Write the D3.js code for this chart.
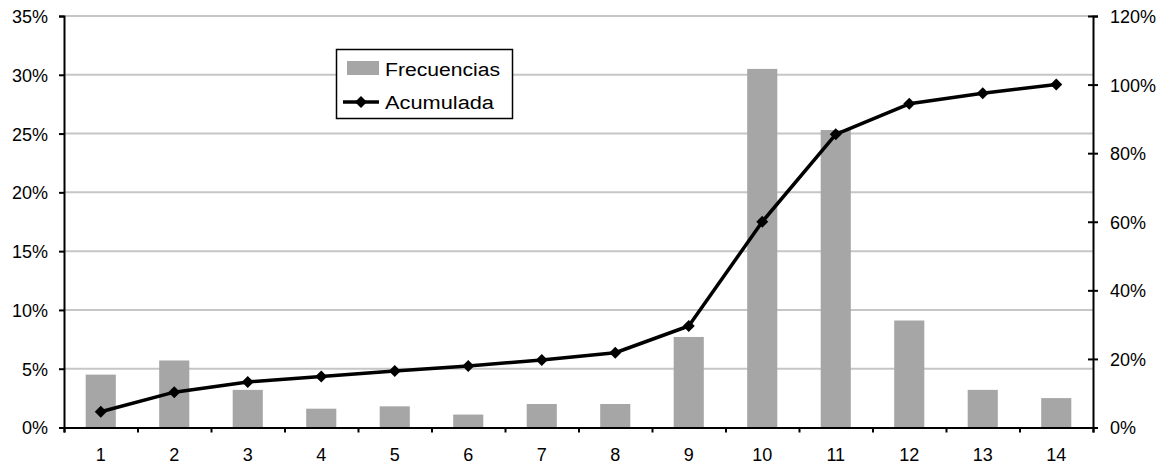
<!DOCTYPE html>
<html>
<head>
<meta charset="utf-8">
<script src="https://cdn.jsdelivr.net/npm/d3@7"></script>
<style>
  body { margin: 0; background: #fff; }
  svg text { font-family: "Liberation Sans", Arial, sans-serif; font-size: 18px; fill: #000; }
</style>
</head>
<body>
<svg id="chart" width="1168" height="473"></svg>
<script>
// data
const categories = ["1","2","3","4","5","6","7","8","9","10","11","12","13","14"]
const frecuencias = [0.045, 0.057, 0.032, 0.016, 0.018, 0.011, 0.020, 0.020, 0.077, 0.305, 0.253, 0.091, 0.032, 0.025]
const acumulada = [0.046, 0.103, 0.133, 0.149, 0.165, 0.179, 0.197, 0.218, 0.296, 0.600, 0.855, 0.944, 0.975, 1.000]
const leftTicks = [0, 0.05, 0.10, 0.15, 0.20, 0.25, 0.30, 0.35]
const rightTicks = [0, 0.2, 0.4, 0.6, 0.8, 1.0, 1.2]

const svg = d3.select("#chart")

const plotLeft = 64, plotRight = 1093, plotTop = 16, plotBottom = 427.5

const x = d3.scaleBand().domain(categories).range([plotLeft, plotRight])
const xEdge = d3.scaleLinear().domain([0, categories.length]).range([plotLeft, plotRight])
const yL = d3.scaleLinear().domain([0, 0.35]).range([plotBottom, plotTop])
const yR = d3.scaleLinear().domain([0, 1.2]).range([plotBottom, plotTop])

const barW = x.bandwidth() * 0.41
const cx = function(d) { return x(d) + x.bandwidth() / 2 }

// gridlines
svg.append("g")
  .selectAll("line")
  .data(leftTicks.slice(1))
  .enter().append("line")
    .attr("x1", plotLeft).attr("x2", plotRight)
    .attr("y1", function(d) { return yL(d) }).attr("y2", function(d) { return yL(d) })
    .attr("stroke", "#c6c6c6").attr("stroke-width", 2)

// bars
svg.append("g")
  .selectAll("rect")
  .data(frecuencias)
  .enter().append("rect")
    .attr("x", function(d, i) { return cx(categories[i]) - barW / 2 })
    .attr("width", barW)
    .attr("y", function(d) { return yL(d) })
    .attr("height", function(d) { return plotBottom - yL(d) })
    .attr("fill", "#a6a6a6")

// axes
const axL = svg.append("g")
    .attr("transform", "translate(" + plotLeft + ",0)")
    .call(d3.axisLeft(yL).tickValues(leftTicks).tickFormat(d3.format(".0%")).tickSize(5).tickPadding(11))
const axR = svg.append("g")
    .attr("transform", "translate(" + plotRight + ",0)")
    .call(d3.axisRight(yR).tickValues(rightTicks).tickFormat(d3.format(".0%")).tickSize(5).tickPadding(12))
axR.selectAll(".tick line").attr("x1", -5).attr("x2", 5)

svg.append("g")
    .attr("transform", "translate(0," + plotBottom + ")")
    .call(d3.axisBottom(xEdge).tickValues(d3.range(categories.length + 1)).tickFormat("").tickSize(5))
svg.append("g")
    .attr("transform", "translate(0," + plotBottom + ")")
    .call(d3.axisBottom(x).tickSize(0).tickPadding(21))
    .select(".domain").remove()

svg.selectAll(".domain, .tick line").attr("stroke", "#000").attr("stroke-width", 2)
svg.selectAll(".tick text").style("font-size", "18px").attr("fill", "#000")
axL.selectAll(".tick text").attr("dy", "0.36em")
axR.selectAll(".tick text").attr("dy", "0.36em")

// cumulative line
const line = d3.line()
    .x(function(d, i) { return cx(categories[i]) })
    .y(function(d) { return yR(d) })

svg.append("path")
    .datum(acumulada)
    .attr("d", line)
    .attr("fill", "none")
    .attr("stroke", "#000")
    .attr("stroke-width", 3.5)
    .attr("stroke-linejoin", "round")

const diamond = d3.symbol().type(d3.symbolSquare).size(72)

svg.append("g")
  .selectAll("path")
  .data(acumulada)
  .enter().append("path")
    .attr("d", diamond)
    .attr("transform", function(d, i) { return "translate(" + cx(categories[i]) + "," + yR(d) + ") rotate(45)" })
    .attr("fill", "#000")

// legend
const legend = svg.append("g")
legend.append("rect")
    .attr("x", 336.5).attr("y", 49.5).attr("width", 176).attr("height", 69)
    .attr("fill", "#fff").attr("stroke", "#000").attr("stroke-width", 1.5)
legend.append("rect")
    .attr("x", 347).attr("y", 61).attr("width", 32).attr("height", 14)
    .attr("fill", "#a6a6a6")
legend.append("text")
    .attr("x", 385).attr("y", 76)
    .attr("textLength", 115).attr("lengthAdjust", "spacingAndGlyphs")
    .text("Frecuencias")
legend.append("line")
    .attr("x1", 343).attr("x2", 379).attr("y1", 102).attr("y2", 102)
    .attr("stroke", "#000").attr("stroke-width", 3.5)
legend.append("path")
    .attr("d", diamond)
    .attr("transform", "translate(361,102) rotate(45)")
legend.append("text")
    .attr("x", 385).attr("y", 109)
    .attr("textLength", 109).attr("lengthAdjust", "spacingAndGlyphs")
    .text("Acumulada")
</script>
</body>
</html>
